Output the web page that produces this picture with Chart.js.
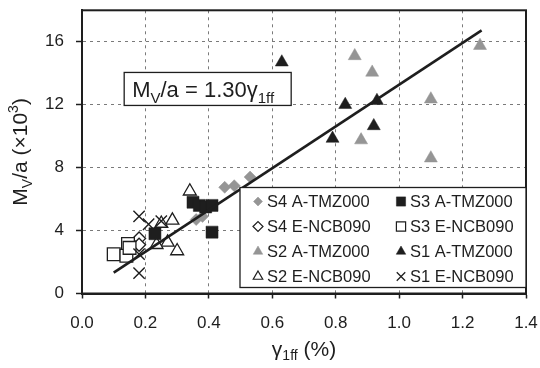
<!DOCTYPE html>
<html>
<head>
<meta charset="utf-8">
<script src="https://cdn.jsdelivr.net/npm/chart.js@4.4.1/dist/chart.umd.min.js"></script>
<style>
html, body { margin: 0; padding: 0; background: #fff; }
#wrap { width: 540px; height: 368px; }
</style>
</head>
<body>
<div id="wrap"><canvas id="myChart" width="540" height="368"></canvas></div>
<script>
// Gamma_1ff (%) mod Mv/a (x10^3)
var xTicks = [0, 0.2, 0.4, 0.6, 0.8, 1.0, 1.2, 1.4];
var yTicks = [0, 4, 8, 12, 16];

var s4A = [[0.36, 4.7], [0.38, 4.9], [0.45, 6.75], [0.48, 6.85], [0.53, 7.4]];
var s4E = [[0.18, 3.5], [0.18, 3.1]];
var s3A = [[0.23, 3.8], [0.35, 5.8], [0.37, 5.6], [0.39, 5.5], [0.41, 5.6], [0.41, 3.9]];
var s3E = [[0.10, 2.5], [0.145, 3.15], [0.14, 2.4], [0.15, 2.9]];
var s2A = [[0.86, 15.1], [0.915, 14.05], [1.10, 12.35], [1.255, 15.75], [0.88, 9.75], [1.10, 8.6]];
var s2E = [[0.34, 6.5], [0.285, 4.65], [0.25, 4.45], [0.27, 3.25], [0.30, 2.7], [0.235, 3.1]];
var s1A = [[0.63, 14.7], [0.83, 12.0], [0.93, 12.25], [0.92, 10.65], [0.79, 9.85]];
var s1E = [[0.18, 4.9], [0.21, 4.4], [0.25, 4.6], [0.18, 2.5], [0.18, 1.3]];
var fitLine = [[0.1, 1.33], [1.26, 16.72]];

var FONT = '"Liberation Sans", Arial, Helvetica, sans-serif';
var GRAY = '#959595';
var INK = '#1e1e1e';

function pts(arr) {
    return arr.map(p => ({ x: p[0], y: p[1] }));
}

// style per serie: [label, data, pointStyle, fill, stroke, radius, legendRadius]
var series = [
    ['S4 A-TMZ000', s4A, 'rectRot', GRAY, GRAY, 6, 4.5],
    ['S3 A-TMZ000', s3A, 'rect', INK, INK, 8.5, 6.5],
    ['S4 E-NCB090', s4E, 'rectRot', '#fff', INK, 6.5, 5],
    ['S3 E-NCB090', s3E, 'rect', '#fff', INK, 9, 6.5],
    ['S2 A-TMZ000', s2A, 'triangle', GRAY, GRAY, 7.5, 5.5],
    ['S1 A-TMZ000', s1A, 'triangle', INK, INK, 7.5, 5.5],
    ['S2 E-NCB090', s2E, 'triangle', '#fff', INK, 7.5, 5.5],
    ['S1 E-NCB090', s1E, 'crossRot', INK, INK, 8, 6]
];
// tegne-rækkefølge (lavere = øverst)
var drawOrder = { 'S3 A-TMZ000': 1, 'S1 A-TMZ000': 2, 'S1 E-NCB090': 3, 'S2 E-NCB090': 4,
                  'S3 E-NCB090': 5, 'S4 E-NCB090': 6, 'S4 A-TMZ000': 7, 'S2 A-TMZ000': 8 };

var datasets = series.map(s => ({
    type: 'scatter',
    label: s[0],
    data: pts(s[1]),
    pointStyle: s[2],
    backgroundColor: s[3],
    borderColor: s[4],
    pointRadius: s[5],
    pointHoverRadius: s[5],
    borderWidth: s[2] === 'crossRot' ? 1.4 : (s[3] === '#fff' ? 1.3 : 0.5),
    order: drawOrder[s[0]]
}));

datasets.push({
    type: 'line',
    label: 'fit',
    data: pts(fitLine),
    borderColor: INK,
    borderWidth: 2.6,
    pointRadius: 0,
    fill: false,
    order: 0
});

// tekst med sænket/hævet skrift
function richWidth(ctx, parts) {
    var w = 0;
    parts.forEach(p => {
        ctx.font = p.size + 'px ' + FONT;
        w += ctx.measureText(p.t).width;
    });
    return w;
}
function drawRich(ctx, parts, x, y) {
    parts.forEach(p => {
        ctx.font = p.size + 'px ' + FONT;
        ctx.fillText(p.t, x, y + (p.dy || 0));
        x += ctx.measureText(p.t).width;
    });
}

var extras = {
    id: 'extras',
    afterDatasetsDraw(chart) {
        var ctx = chart.ctx;
        var a = chart.chartArea;
        var xs = chart.scales.x, ys = chart.scales.y;
        ctx.save();

        // ramme
        ctx.strokeStyle = INK;
        ctx.lineWidth = 2;
        ctx.strokeRect(a.left, a.top, a.right - a.left, a.bottom - a.top);

        // formel-boks
        var bx = xs.getPixelForValue(0.133), by = ys.getPixelForValue(14.05);
        ctx.fillStyle = '#fff';
        ctx.fillRect(bx, by, 167, 33);
        ctx.lineWidth = 1.3;
        ctx.strokeRect(bx, by, 167, 33);
        ctx.fillStyle = INK;
        ctx.textBaseline = 'alphabetic';
        ctx.textAlign = 'left';
        drawRich(ctx, [
            { t: 'M', size: 22 }, { t: 'V', size: 15, dy: 6 },
            { t: '/a = 1.30', size: 22 }, { t: 'γ', size: 22 }, { t: '1ff', size: 15, dy: 6 }
        ], bx + 8, by + 25);

        // legende
        var lw = 286, lh = 100;
        var lx = a.right - lw, ly = a.bottom - 106;
        ctx.fillStyle = '#fff';
        ctx.fillRect(lx, ly, lw, lh);
        ctx.strokeStyle = INK;
        ctx.lineWidth = 1.3;
        ctx.strokeRect(lx, ly, lw, lh);
        ctx.textBaseline = 'middle';
        series.forEach((s, i) => {
            var col = i % 2, row = Math.floor(i / 2);
            var mx = lx + (col === 0 ? 18 : 161);
            var my = ly + 14 + row * 25;
            ctx.fillStyle = s[3];
            ctx.strokeStyle = s[4];
            ctx.lineWidth = s[2] === 'crossRot' ? 1.3 : (s[3] === '#fff' ? 1.2 : 0.5);
            Chart.helpers.drawPoint(ctx, { pointStyle: s[2], radius: s[6], rotation: 0, borderWidth: ctx.lineWidth }, mx, my);
            ctx.fillStyle = INK;
            ctx.font = '16.5px ' + FONT;
            ctx.fillText(s[0], mx + 9, my + 1);
        });

        // aksetitler
        ctx.fillStyle = INK;
        ctx.textBaseline = 'alphabetic';
        var xt = [{ t: 'γ', size: 21 }, { t: '1ff', size: 14, dy: 4 }, { t: ' (%)', size: 21 }];
        var w = richWidth(ctx, xt);
        drawRich(ctx, xt, (a.left + a.right) / 2 - w / 2, a.bottom + 62);

        var yt = [{ t: 'M', size: 21 }, { t: 'V', size: 14, dy: 5 }, { t: '/a (×10', size: 21 },
                  { t: '3', size: 14, dy: -9 }, { t: ')', size: 21 }];
        w = richWidth(ctx, yt);
        ctx.translate(27, (a.top + a.bottom) / 2);
        ctx.rotate(-Math.PI / 2);
        drawRich(ctx, yt, -w / 2, 0);
        ctx.restore();
    }
};

var ctx = document.getElementById('myChart').getContext('2d');
var myChart = new Chart(ctx, {
    type: 'scatter',
    data: { datasets: datasets },
    options: {
        responsive: false,
        animation: false,
        devicePixelRatio: 1,
        layout: { padding: { left: 0, right: 14, top: 5.5, bottom: 0 } },
        plugins: { legend: { display: false }, tooltip: { enabled: false } },
        scales: {
            x: {
                type: 'linear', min: 0, max: 1.4,
                afterBuildTicks: s => { s.ticks = xTicks.map(v => ({ value: v })); },
                afterFit: s => { s.height = 74.5; s.paddingLeft = 0; s.paddingRight = 0; },
                grid: { color: '#7a7a7a', lineWidth: 1, tickColor: INK, tickLength: 5, tickWidth: 1.5 },
                border: { display: true, color: INK, width: 2, dash: [3, 4] },
                ticks: { color: INK, font: { family: FONT, size: 17 }, padding: 15, maxRotation: 0,
                         callback: v => v.toFixed(1) }
            },
            y: {
                type: 'linear', min: 0, max: 18,
                afterBuildTicks: s => { s.ticks = yTicks.map(v => ({ value: v })); },
                afterFit: s => { s.width = 82; s.paddingTop = 0; s.paddingBottom = 0; },
                grid: { color: '#7a7a7a', lineWidth: 1, tickColor: INK, tickLength: 6, tickWidth: 1.5 },
                border: { display: true, color: INK, width: 2, dash: [3, 4] },
                ticks: { color: INK, font: { family: FONT, size: 17 }, padding: 12,
                         callback: v => String(v) }
            }
        }
    },
    plugins: [extras]
});
</script>
</body>
</html>
